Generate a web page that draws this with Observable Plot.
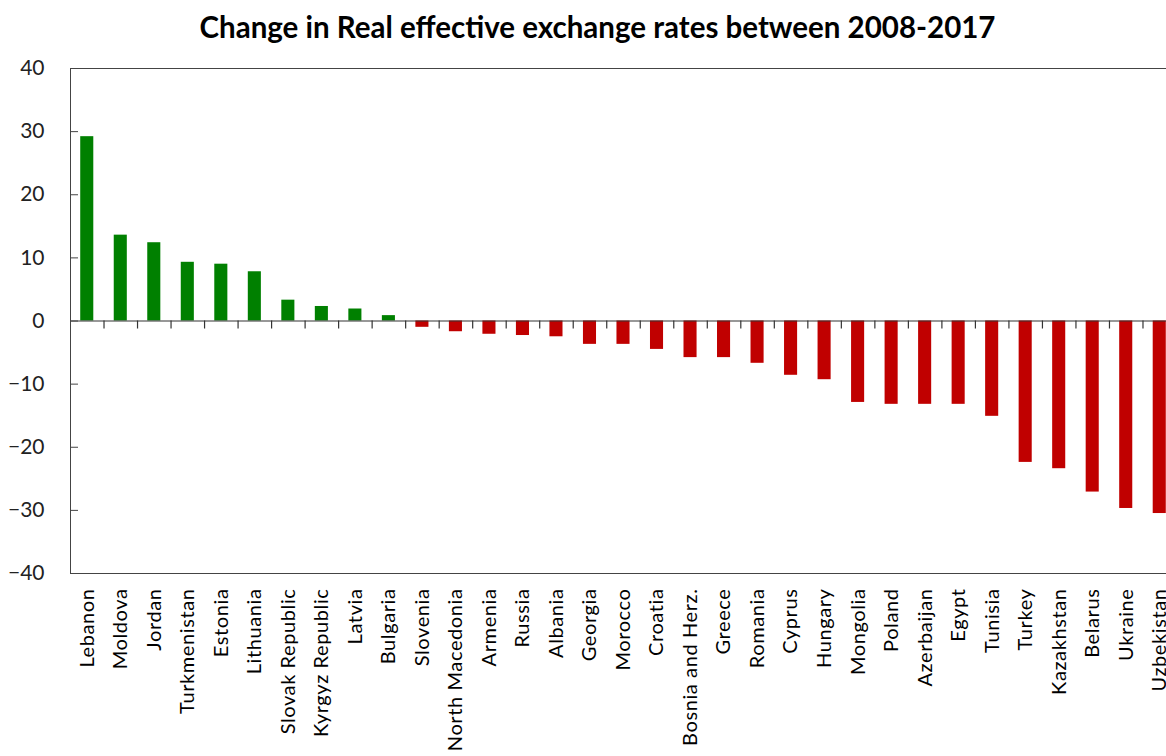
<!DOCTYPE html>
<html>
<head>
<meta charset="utf-8">
<script src="https://cdn.jsdelivr.net/npm/d3@7"></script>
<script src="https://cdn.jsdelivr.net/npm/@observablehq/plot@0.6"></script>
<style>
  html, body { margin: 0; padding: 0; background: #fff; overflow: hidden; width: 1166px; height: 756px; }
  #title { position: absolute; left: 0; top: 12px; width: 1166px; padding-left: 29px; box-sizing: border-box;
           text-align: center; font-family: Lato, "Open Sans", sans-serif; font-weight: bold; font-size: 29.5px; line-height: 1; color: #000; }
  #chart { position: absolute; left: 0; top: 50px; }
  #chart g[aria-label="x-axis tick label"] text { letter-spacing: 0.6px; }
</style>
</head>
<body>
<div id="title">Change in Real effective exchange rates between 2008-2017</div>
<div id="chart"></div>
<script>
const countries = ["Lebanon","Moldova","Jordan","Turkmenistan","Estonia","Lithuania","Slovak Republic","Kyrgyz Republic","Latvia","Bulgaria",
  "Slovenia","North Macedonia","Armenia","Russia","Albania","Georgia","Morocco","Croatia","Bosnia and Herz.","Greece",
  "Romania","Cyprus","Hungary","Mongolia","Poland","Azerbaijan","Egypt","Tunisia","Turkey","Kazakhstan",
  "Belarus","Ukraine","Uzbekistan"];
const values = [29.2, 13.6, 12.4, 9.3, 9.0, 7.8, 3.3, 2.3, 1.9, 0.85,
  -1.0, -1.7, -2.1, -2.3, -2.5, -3.7, -3.7, -4.5, -5.8, -5.8,
  -6.7, -8.6, -9.3, -12.9, -13.2, -13.2, -13.2, -15.1, -22.4, -23.4,
  -27.1, -29.7, -30.5];
const yTicks = [-40, -30, -20, -10, 0, 10, 20, 30, 40];
const positiveColor = "#008000";
const negativeColor = "#C00000";

const data = countries.map((c, i) => ({country: c, value: values[i]}));

const W = 1176, ML = 70, MR = 0;
const step = (W - ML - MR) / countries.length;

const chart = Plot.plot({
  width: W,
  height: 706,
  marginLeft: ML,
  marginRight: MR,
  marginTop: 18,
  marginBottom: 183,
  style: {fontFamily: "Lato, 'Open Sans', sans-serif", maxWidth: "none", overflow: "visible", background: "#fff"},
  x: {domain: countries, paddingInner: 0.61, paddingOuter: 0.305, round: false, label: null},
  y: {domain: [-40, 40], label: null},
  marks: [
    Plot.barY(data, {x: "country", y: "value", fill: d => d.value >= 0 ? positiveColor : negativeColor}),
    Plot.ruleY([0], {stroke: "#333", strokeWidth: 1.2}),
    Plot.ruleX(countries.slice(1), {x: d => d, y1: 0, y2: -1.27, dx: -step / 2, stroke: "#333", strokeWidth: 1.2}),
    Plot.frame({stroke: "#444", strokeWidth: 1}),
    Plot.axisY(yTicks, {tickSize: 8, dx: 8, tickFormat: () => "", stroke: "#444", label: null}),
    Plot.axisY(yTicks, {tickSize: 0, tickPadding: 26, fontSize: 21, fill: "#222", label: null}),
    Plot.axisX({anchor: "bottom", tickSize: 0, tickPadding: 15, tickRotate: -90, fontSize: 20, fill: "#000", label: null})
  ]
});
document.getElementById("chart").appendChild(chart);
</script>
</body>
</html>
